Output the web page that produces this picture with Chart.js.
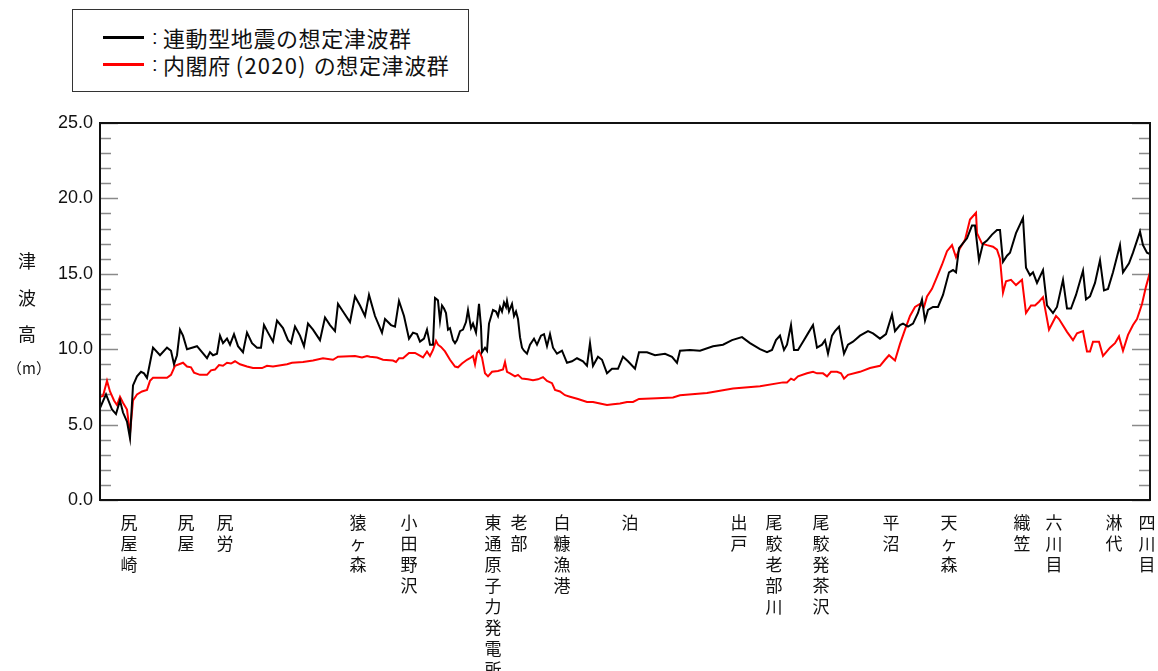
<!DOCTYPE html>
<html lang="ja">
<head>
<meta charset="utf-8">
<title>想定津波群</title>
<script src="https://cdn.jsdelivr.net/npm/chart.js@4.4.1/dist/chart.umd.min.js"></script>
<style>
  body { margin: 0; background: #fff; }
  #wrap { position: relative; width: 1158px; height: 671px; overflow: hidden; font-family: "Noto Sans CJK JP", sans-serif; color: #111; }
  #chart { position: absolute; left: 0; top: 0; }
  #legend { position: absolute; left: 72px; top: 9px; width: 397px; height: 83px; border: 1px solid #333; box-sizing: border-box; background: #fff; }
  .row { position: absolute; left: 30px; height: 26px; line-height: 26px; font-size: 22px; white-space: nowrap; }
  .swatch { position: absolute; left: 0; top: 12px; width: 41px; height: 3px; }
  .colon { position: absolute; left: 49px; font-family: "Liberation Sans", sans-serif; font-size: 20px; }
  .txt { position: absolute; left: 60px; letter-spacing: 0.6px; }
  .yr { display: inline-block; margin: 0 7px 0 5px; letter-spacing: 1.2px; }
  .ych { position: absolute; width: 40px; left: 7px; text-align: center; font-size: 18px; line-height: 20px; }
</style>
</head>
<body>
<div id="wrap">
  <canvas id="chart" width="1158" height="671"></canvas>
  <div id="legend">
    <div class="row" style="top:14px"><div class="swatch" style="background:#000"></div><span class="colon">:</span><span class="txt">連動型地震の想定津波群</span></div>
    <div class="row" style="top:41px"><div class="swatch" style="background:#ff0000"></div><span class="colon">:</span><span class="txt">内閣府<span class="yr">(2020)</span>の想定津波群</span></div>
  </div>
  <div class="ych" style="top:250px">津</div>
  <div class="ych" style="top:287px">波</div>
  <div class="ych" style="top:323px">高</div>
  <div class="ych" style="top:358px;font-size:15px">（m）</div>
</div>
<script>
// 海岸沿いの距離（目盛り単位）と津波高 (m)
const blackDist = [
  0, 0.6, 1.2, 1.6, 2.0, 2.3, 2.7, 3.0, 3.3, 3.7,
  4.1, 4.4, 4.7, 5.3, 6.0, 6.7, 7.1, 7.4, 7.7, 8.0,
  8.3, 8.7, 9.2, 9.7, 10.2, 10.7, 11.0, 11.3, 11.7, 12.0,
  12.3, 12.7, 13.0, 13.4, 13.8, 14.3, 14.7, 15.2, 15.7, 16.1,
  16.4, 16.8, 17.3, 17.7, 18.3, 18.8, 19.1, 19.5, 20.0, 20.4,
  20.8, 21.3, 22.0, 22.5, 23.0, 23.5, 23.8, 24.3, 25.0, 25.5,
  26.0, 26.5, 26.9,
  27.5, 28.2, 28.5, 29.1, 29.5, 29.9, 30.4, 30.9, 31.3, 31.7,
  32.0, 32.4, 32.7, 33.0, 33.3, 33.5, 33.7, 33.8, 34.0, 34.2,
  34.4, 34.6, 34.8, 35.0, 35.3, 35.5, 35.7, 36.0, 36.3, 36.6,
  36.8, 37.1, 37.3, 37.6, 37.7, 37.9, 38.1, 38.2, 38.5, 38.7,
  38.9, 39.3, 39.6, 39.8, 40.0, 40.2, 40.4, 40.6, 40.7, 40.9,
  41.2, 41.4, 41.6, 41.8, 42.0, 42.2, 42.4, 42.7, 43.0, 43.4,
  43.7, 44.1, 44.4, 44.7, 45.0, 45.3, 45.7, 46.2, 46.7, 47.2,
  47.7, 48.3, 48.7, 49.0, 49.3, 49.8, 50.2, 50.7, 51.2, 51.8,
  52.3, 52.8, 53.5, 53.9,
  54.7, 55.5, 56.5, 57.2, 57.7, 58.0, 59.0, 60.0, 61.3, 62.3,
  63.2, 64.2, 65.0, 66.0, 66.7, 67.2, 67.6, 68.0, 68.4, 68.7,
  69.1, 69.4, 69.8, 70.3, 70.8, 71.3, 71.7, 72.2, 72.5, 72.8,
  73.2, 73.5, 73.9, 74.4, 74.8, 75.3, 76.0, 76.8, 77.3, 78.0,
  78.6, 79.2, 79.5,
  80.0, 80.3, 80.8, 81.3, 81.8, 82.2, 82.5, 82.8, 83.3, 83.8,
  84.3, 84.9, 85.3, 85.6, 85.9, 86.7, 87.2, 87.5, 87.9, 88.3,
  88.7, 89.2, 89.7, 90.0, 90.3, 90.7, 91.0, 91.6, 92.3, 92.6,
  93.0, 93.3, 93.7, 94.3, 94.7, 95.3, 95.7, 96.3, 96.7, 97.1,
  97.6, 98.3, 98.6, 99.0, 99.5, 100.0, 100.4, 100.8, 101.3, 102.0,
  102.3, 102.9, 103.3, 104.0, 104.3, 104.7, 105.0
];
const blackHeight = [
  6.1, 7.0, 6.0, 5.7, 6.6, 5.8, 5.2, 4.1, 7.6, 8.2,
  8.5, 8.4, 8.1, 10.1, 9.6, 10.1, 9.9, 9.0, 9.6, 11.3,
  10.9, 10.0, 10.1, 10.2, 9.8, 9.4, 9.8, 9.6, 9.7, 10.9,
  10.4, 10.7, 10.3, 11.0, 10.2, 9.8, 11.1, 10.4, 10.1, 10.1,
  11.6, 11.1, 10.5, 11.9, 11.4, 10.6, 10.4, 11.5, 10.9, 10.2,
  11.7, 11.3, 10.6, 12.1, 11.6, 11.2, 13.0, 12.5, 11.8, 13.5,
  12.9, 12.2, 13.6,
  12.2, 11.1, 12.0, 11.6, 11.5, 13.2, 12.2, 10.7, 11.1, 11.0,
  10.5, 10.7, 11.3, 10.3, 10.3, 13.4, 13.3, 13.2, 11.9, 12.9,
  12.7, 12.4, 11.3, 11.4, 10.6, 10.4, 10.6, 11.2, 11.3, 11.8,
  12.6, 11.4, 11.7, 11.1, 11.7, 13.0, 11.5, 9.8, 10.1, 9.9,
  11.7, 12.6, 12.5, 12.2, 12.8, 12.5, 13.1, 12.8, 13.2, 12.5,
  13.0, 12.2, 12.5, 12.0, 10.8, 10.1, 9.9, 9.7, 10.3, 10.7,
  10.3, 10.9, 11.0, 10.2, 11.0, 10.1, 9.7, 9.9, 9.1, 9.2,
  9.4, 9.2, 8.9, 10.4, 8.9, 9.5, 9.3, 8.4, 8.7, 8.7,
  9.5, 9.2, 8.7, 9.8,
  9.8, 9.6, 9.7, 9.5, 9.1, 9.9, 9.95, 9.9, 10.2, 10.3,
  10.6, 10.8, 10.4, 10.0, 9.8, 9.95, 10.6, 10.9, 9.95, 10.3,
  11.6, 9.95, 9.95, 10.5, 11.05, 11.6, 10.1, 10.3, 10.6, 9.7,
  10.9, 11.2, 11.5, 9.7, 10.3, 10.5, 10.9, 11.2, 11.05, 10.7,
  11.0, 12.3, 11.2,
  11.6, 11.7, 11.5, 11.7, 12.4, 13.3, 11.9, 12.6, 12.8, 12.8,
  13.6, 15.1, 15.25, 15.1, 16.7, 17.35, 18.2, 18.2, 15.9, 17.0,
  17.2, 17.6, 17.9, 17.9, 15.8, 16.2, 16.4, 17.7, 18.7, 15.4,
  14.9, 15.1, 14.4, 15.25, 12.9, 12.4, 12.8, 14.6, 12.7, 12.7,
  13.6, 15.2, 13.3, 13.5, 14.4, 15.9, 13.9, 14.0, 15.1, 16.9,
  15.1, 15.7, 16.4, 17.8, 16.9, 16.4, 16.3
];

const redDist = [
  0, 0.3, 0.7, 1.0, 1.4, 1.7, 2.0, 2.3, 2.7, 3.0,
  3.3, 3.7, 4.2, 4.7, 5.0, 5.3, 6.7, 7.1, 7.5, 8.3,
  8.7, 9.1, 9.4, 10.0, 10.7, 11.1, 11.5, 11.9, 12.3, 12.7,
  13.1, 13.5, 14.0, 14.7, 15.3, 16.2, 16.7, 17.3, 18.7, 19.2,
  20.3, 21.3, 22.3, 23.3, 23.8, 25.5, 26.2, 26.7,
  27.0, 27.7, 28.3, 29.3, 29.6, 29.9, 30.3, 30.9, 31.5, 31.9,
  32.3, 32.7, 33.0, 33.3, 33.6, 33.8, 34.1, 34.5, 35.0, 35.5,
  35.8, 36.2, 36.7, 37.0, 37.3, 37.5, 37.7, 37.9, 38.2, 38.5,
  38.8, 39.2, 39.8, 40.3, 40.5, 40.7, 41.0, 41.5, 41.8, 42.2,
  42.8, 43.3, 43.8, 44.3, 44.7, 45.2, 45.5, 46.0, 46.5, 47.0,
  47.8, 48.7, 49.3, 50.0, 50.7, 51.3, 52.0, 52.7, 53.3, 53.9,
  55.7, 57.3, 58.0, 60.7, 63.3, 66.0, 68.3, 68.7, 69.1, 69.4,
  69.8, 70.7, 71.3, 71.7, 72.3, 72.7, 73.1, 73.7, 74.1, 74.4,
  74.8, 76.0, 77.0, 78.0, 78.5, 78.9, 79.5,
  80.0, 80.5, 81.0, 81.5, 82.0, 82.4, 82.7, 83.2, 83.7, 84.2,
  84.7, 85.2, 85.6, 86.0, 86.5, 87.0, 87.6, 87.7, 88.2, 88.7,
  89.3, 89.7, 90.0, 90.3, 90.6, 91.1, 91.6, 92.2, 92.6, 93.1,
  93.5, 93.9, 94.3, 94.9, 95.6, 95.9, 96.7, 97.3, 97.7, 98.3,
  98.7, 99.0, 99.3, 99.9, 100.3, 101.0, 101.5, 101.9, 102.3, 102.8,
  103.3, 103.7, 104.2, 104.6, 105.0
];
const redHeight = [
  6.85, 6.9, 7.9, 7.2, 6.6, 6.3, 6.85, 6.45, 6.0, 4.4,
  6.6, 7.0, 7.2, 7.3, 7.9, 8.1, 8.1, 8.3, 8.9, 9.1,
  8.85, 8.8, 8.45, 8.3, 8.3, 8.6, 8.65, 8.95, 8.9, 9.1,
  9.05, 9.2, 9.0, 8.85, 8.75, 8.75, 8.9, 8.85, 9.0, 9.1,
  9.15, 9.25, 9.4, 9.3, 9.5, 9.55, 9.45, 9.55,
  9.5, 9.45, 9.3, 9.25, 9.15, 9.4, 9.4, 9.75, 9.75, 9.6,
  9.45, 9.85, 9.55, 9.95, 10.55, 10.3, 10.15, 9.85, 9.3, 8.85,
  8.8, 9.05, 9.3, 9.4, 9.55, 9.0, 9.75, 9.9, 9.45, 8.4,
  8.2, 8.5, 8.55, 8.65, 9.15, 8.5, 8.4, 8.2, 8.3, 8.05,
  8.0, 7.95, 8.0, 8.15, 7.9, 7.75, 7.3, 7.2, 6.95, 6.85,
  6.7, 6.5, 6.5, 6.4, 6.3, 6.35, 6.4, 6.5, 6.5, 6.7,
  6.75, 6.8, 6.95, 7.1, 7.4, 7.55, 7.8, 7.8, 8.05, 7.95,
  8.2, 8.4, 8.5, 8.4, 8.4, 8.2, 8.5, 8.5, 8.4, 8.05,
  8.3, 8.5, 8.75, 8.9, 9.3, 9.6, 9.25,
  10.35, 11.3, 12.2, 12.8, 13.0, 12.8, 13.5, 14.0, 14.8, 15.6,
  16.5, 16.9, 16.1, 16.7, 17.25, 18.6, 19.05, 17.7, 17.0, 16.9,
  16.8, 16.6, 16.0, 13.75, 14.5, 14.6, 14.25, 14.6, 12.4, 12.9,
  12.9, 13.15, 13.45, 11.3, 12.2, 12.0, 11.15, 10.6, 11.05, 11.2,
  9.85, 9.85, 10.5, 10.5, 9.55, 10.1, 10.4, 10.85, 9.9, 10.95,
  11.6, 12.0, 13.0, 14.15, 15.1
];

// 地点名とその位置
const placeNames = ['尻屋崎', '尻屋', '尻労', '猿ヶ森', '小田野沢', '東通原子力発電所', '老部', '白糠漁港', '泊',
  '出戸', '尾駮老部川', '尾駮発茶沢', '平沼', '天ヶ森', '織笠', '六川目', '淋代', '四川目'];
const placeDist = [2.9, 8.6, 12.5, 25.8, 30.9, 39.3, 41.9, 46.2, 53.0,
  63.9, 67.4, 72.1, 79.1, 84.9, 92.2, 95.4, 101.4, 104.7];

const distRange = [0, 105];
const heightRange = [0, 25];
const heightMajorStep = 5;
const heightMinorStep = 1;

const toPoints = (xs, ys) => xs.map((x, i) => ({ x: x, y: ys[i] }));

// 枠と内向きの目盛り
const frameTicks = {
    id: 'frameTicks',
    beforeDatasetsDraw(chart) {
        const { ctx, chartArea: a, scales: { y } } = chart;
        ctx.save();
        ctx.strokeStyle = '#8a8a8a';
        ctx.lineWidth = 1.5;
        for (let v = heightRange[0]; v <= heightRange[1]; v += heightMinorStep) {
            const py = Math.round(y.getPixelForValue(v)) + 0.5;
            const len = v % heightMajorStep === 0 ? 18 : 11;
            ctx.beginPath();
            ctx.moveTo(a.left, py);
            ctx.lineTo(a.left + len, py);
            ctx.moveTo(a.right, py);
            ctx.lineTo(a.right - len, py);
            ctx.stroke();
        }
        ctx.restore();
    },
    afterDatasetsDraw(chart) {
        const { ctx, chartArea: a } = chart;
        ctx.save();
        ctx.strokeStyle = '#111';
        ctx.lineWidth = 2;
        ctx.strokeRect(a.left, a.top, a.right - a.left, a.bottom - a.top);
        ctx.restore();
    }
};

new Chart(document.querySelector('#chart'), {
    type: 'line',
    data: {
        datasets: [{
            label: '連動型地震の想定津波群',
            data: toPoints(blackDist, blackHeight),
            borderColor: '#000',
            borderWidth: 2,
            pointRadius: 0,
            tension: 0
        }, {
            label: '内閣府(2020)の想定津波群',
            data: toPoints(redDist, redHeight),
            borderColor: '#ff0000',
            borderWidth: 2,
            pointRadius: 0,
            tension: 0
        }]
    },
    options: {
        responsive: false,
        animation: false,
        layout: { padding: { top: 123, right: 8, bottom: 0, left: 0 } },
        plugins: { legend: { display: false }, tooltip: { enabled: false } },
        scales: {
            x: {
                type: 'linear',
                min: distRange[0],
                max: distRange[1],
                grid: { display: false, drawTicks: false },
                border: { display: false },
                afterBuildTicks: (scale) => {
                    scale.ticks = placeDist.map(v => ({ value: v }));
                },
                afterFit: (scale) => {
                    scale.height = 171;
                    scale.paddingLeft = 0;
                    scale.paddingRight = 0;
                },
                ticks: {
                    autoSkip: false,
                    maxRotation: 0,
                    minRotation: 0,
                    padding: 12,
                    color: '#111',
                    font: { family: '"Noto Sans CJK JP", sans-serif', size: 17, lineHeight: '21px' },
                    callback: (value, index) => placeNames[index].split('')
                }
            },
            y: {
                min: heightRange[0],
                max: heightRange[1],
                grid: { display: false, drawTicks: false },
                border: { display: false },
                afterFit: (scale) => { scale.width = 100; },
                ticks: {
                    stepSize: heightMajorStep,
                    padding: 7,
                    color: '#111',
                    font: { family: '"Liberation Sans", Arial, sans-serif', size: 18 },
                    callback: (value) => value.toFixed(1)
                }
            }
        }
    },
    plugins: [frameTicks]
});
</script>
</body>
</html>
